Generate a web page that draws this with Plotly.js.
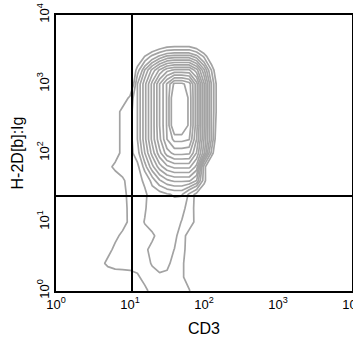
<!DOCTYPE html>
<html>
<head>
<meta charset="utf-8">
<script src="https://cdn.plot.ly/plotly-3.0.1.min.js"></script>
<style>
html,body{margin:0;padding:0;background:#fff;}
#chart{width:353px;height:341px;}
</style>
</head>
<body>
<div id="chart"></div>
<script>
// log10(CD3) grid positions
const cd3Log = [0.4,0.5,0.6,0.7,0.8,0.9,1.0,1.1,1.2,1.3,1.4,1.5,1.6,1.7,1.8,1.9,2.0,2.1,2.2,2.3,2.4];
// log10(H-2D[b]:Ig) grid positions
const h2dLog = [0,0.2,0.4,0.6,0.8,1.0,1.2,1.4,1.6,1.8,2.0,2.2,2.4,2.6,2.8,3.0,3.2,3.4,3.6,3.8,4.0];
// estimated cell density (rows follow h2dLog, columns follow cd3Log)
const density = [
  [0,0,0,0.5,1.0,2.0,3.0,3.4,3.7,4.4,4.6,4.7,4.6,4.4,4.05,3.5,2.5,1.0,0,0,0],
  [0,0.5,1.5,3.0,3.3,3.5,3.6,3.8,4.4,4.6,4.8,4.8,4.6,4.1,3.7,3.0,2.0,0.5,0,0,0],
  [0,2.8,3.6,4.3,4.5,4.4,4.4,4.5,4.6,5.1,5.4,5.2,4.7,4.2,3.4,2.5,1.5,0.5,0,0,0],
  [0,1.5,2.8,3.6,4.3,4.5,4.6,4.7,4.8,5.3,5.5,5.4,4.98,4.3,3.6,2.5,1.5,0.5,0,0,0],
  [0,1.0,2.0,3.0,3.7,4.3,4.5,4.6,4.7,4.8,5.4,5.5,5.3,4.4,3.6,2.5,1.5,0.5,0,0,0],
  [0,0.5,1.5,2.5,3.0,3.5,4.3,4.6,5.05,5.5,5.5,5.5,5.4,4.95,4.5,3.7,2.5,1.0,0,0,0],
  [0,0,1.0,2.0,2.8,3.4,4.4,4.6,4.9,5.5,5.6,5.6,5.6,5.3,4.6,3.6,2.0,0.5,0,0,0],
  [0,0,0.5,1.5,2.5,3.6,4.4,4.6,4.8,5.5,5.6,5.9,6.1,6.1,4.8,3.6,2.5,1.0,0,0,0],
  [0,0,0.5,2.0,3.0,3.8,4.5,4.6,5.2,6.3,7.4,8.1,8.4,8.4,8.4,7.5,4.5,2.0,0.5,0,0],
  [0,0.5,2.0,3.5,4.4,4.6,4.6,4.7,6.4,8.0,9.4,10.3,10.7,10.7,10.7,9.5,4.6,1.5,0.5,0,0],
  [0,0,1.0,2.0,3.2,4.5,4.6,5.6,7.5,9.3,11.0,12.4,13.0,13.0,12.9,11.2,8.5,4.8,1.5,0,0],
  [0,0,1.0,2.0,3.2,4.5,4.6,6.0,8.0,10.0,11.8,13.5,14.5,14.5,14.3,12.0,9.0,6.0,2.0,0,0],
  [0,0,1.0,2.0,3.2,4.5,4.6,6.0,8.0,10.0,12.0,13.6,16.0,16.0,14.8,12.3,9.1,6.0,2.5,0,0],
  [0,0,1.0,2.0,3.2,4.5,4.6,6.0,8.0,10.0,12.0,13.6,16.0,16.0,14.8,12.3,9.1,6.0,2.9,0,0],
  [0,0,0,1.0,1.5,3.0,4.3,6.0,8.0,10.0,12.0,13.6,16.0,16.0,14.8,12.3,9.1,6.0,2.9,0,0],
  [0,0,0,0,0,1.5,2.0,6.0,8.0,10.0,12.0,13.6,15.2,15.2,14.6,12.3,9.1,6.0,2.9,0,0],
  [0,0,0,0,0,1.0,2.0,4.5,6.8,8.5,9.9,11.0,11.4,11.4,11.4,10.1,7.7,5.0,2.1,0,0],
  [0,0,0,0,0,0,1.1,2.6,4.05,5.3,6.2,6.9,7.1,7.1,7.1,6.3,4.8,2.6,0.1,0,0],
  [0,0,0,0,0,0,0,0,0.5,1.4,2.1,2.6,2.7,2.7,2.7,2.2,1.0,0,0,0,0],
  [0,0,0,0,0,0,0,0,0,0,0,0,0,0,0,0,0,0,0,0,0],
  [0,0,0,0,0,0,0,0,0,0,0,0,0,0,0,0,0,0,0,0,0]
];
// quadrant gate positions (log10)
const gateCD3 = 1.027;
const gateH2D = 1.377;
// axis decades and labels
const decades = [0,1,2,3,4];
const decadeLabels = ['10<sup>0</sup>','10<sup>1</sup>','10<sup>2</sup>','10<sup>3</sup>','10<sup>4</sup>'];

const lineStyle = {color: '#a3a3a3', width: 1.7, smoothing: 0};

const outerTrace = {
  type: 'contour', x: cd3Log, y: h2dLog, z: density,
  autocontour: false,
  contours: {coloring: 'none', start: 4, end: 5, size: 1, showlabels: false},
  line: lineStyle, showscale: false, hoverinfo: 'skip'
};
const coreTrace = {
  type: 'contour', x: cd3Log, y: h2dLog, z: density,
  autocontour: false,
  contours: {coloring: 'none', start: 6, end: 15, size: 0.75, showlabels: false},
  line: lineStyle, showscale: false, hoverinfo: 'skip'
};

const fontFamily = 'Liberation Sans, Arial, sans-serif';
const axisCommon = {
  range: [0, 4],
  tickmode: 'array',
  tickvals: decades,
  ticktext: decadeLabels,
  ticks: '',
  showgrid: false,
  zeroline: false,
  showline: true,
  mirror: true,
  linecolor: '#000',
  linewidth: 2,
  ticklabeloverflow: 'allow',
  tickfont: {family: fontFamily, size: 13, color: '#000'},
  automargin: false
};

const layout = {
  width: 353,
  height: 341,
  margin: {l: 56, r: 1, t: 15, b: 50},
  paper_bgcolor: '#fff',
  plot_bgcolor: '#fff',
  showlegend: false,
  xaxis: Object.assign({}, axisCommon, {
    title: {text: 'CD3', font: {family: fontFamily, size: 16, color: '#000'}, standoff: 12}
  }),
  yaxis: Object.assign({}, axisCommon, {
    tickangle: -90,
    title: {text: 'H-2D[b]:Ig', font: {family: fontFamily, size: 16, color: '#000'}, standoff: 8}
  }),
  shapes: [
    {type: 'line', xref: 'x', yref: 'paper', x0: gateCD3, x1: gateCD3, y0: 0, y1: 1, line: {color: '#000', width: 2}, layer: 'above'},
    {type: 'line', xref: 'paper', yref: 'y', x0: 0, x1: 1, y0: gateH2D, y1: gateH2D, line: {color: '#000', width: 2}, layer: 'above'}
  ]
};

Plotly.newPlot('chart', [outerTrace, coreTrace], layout, {staticPlot: true, displayModeBar: false});
</script>
</body>
</html>
